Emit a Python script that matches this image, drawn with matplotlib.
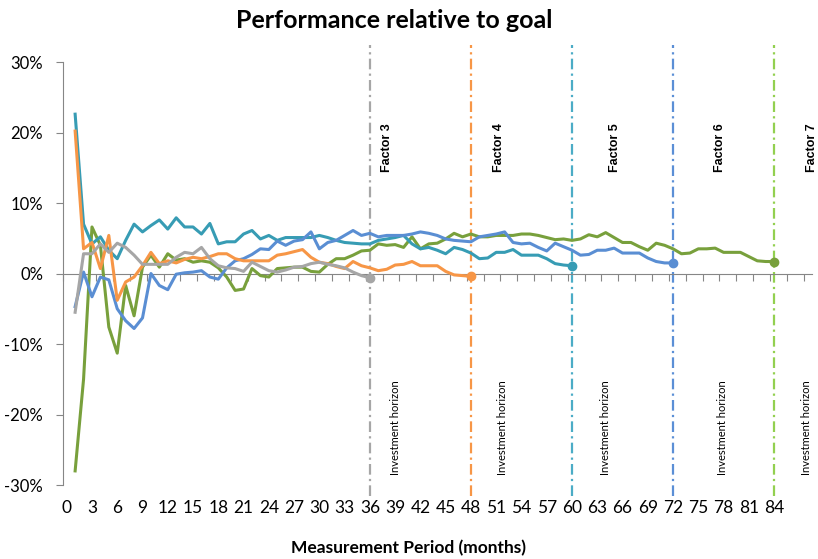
import numpy as np
import matplotlib.pyplot as plt
from matplotlib.ticker import FixedLocator, PercentFormatter

plt.rcParams['font.family'] = ['Lato', 'DejaVu Sans']
plt.rcParams['axes.unicode_minus'] = False

# Performance relative to goal (%), one value per month starting at month 1
factor3 = [-5.5, 2.8, 2.8, 4.2, 3.0, 4.3, 3.7, 2.6, 1.3, 1.3, 1.3, 1.3, 2.3, 3.0, 2.8, 3.7,
           2.1, 1.1, 0.8, 0.7, 0.3, 1.6, 1.0, 0.4, 0.2, 0.5, 0.9, 1.0, 1.4, 1.6, 1.3, 1.1,
           0.8, 0.2, -0.3, -0.6]
factor4 = [20.2, 3.5, 4.4, 0.7, 5.4, -3.8, -1.2, -0.5, 1.1, 3.0, 1.4, 1.8, 1.5, 2.0, 2.3, 2.1,
           2.4, 2.8, 2.8, 2.1, 1.8, 1.8, 1.8, 1.8, 2.6, 2.8, 3.1, 3.4, 2.3, 1.6, 1.4, 1.0,
           0.7, 1.7, 1.1, 0.8, 0.4, 0.6, 1.2, 1.3, 1.7, 1.1, 1.1, 1.1, 0.3, -0.2, -0.3, -0.4]
factor5 = [22.6, 7.0, 4.2, 5.2, 3.3, 2.1, 4.7, 7.0, 5.9, 6.8, 7.6, 6.3, 7.9, 6.6, 6.6, 5.6,
           7.1, 4.2, 4.5, 4.5, 5.6, 6.1, 4.9, 5.4, 4.7, 5.1, 5.1, 5.1, 5.1, 5.4, 5.1, 4.7,
           4.4, 4.3, 4.2, 4.2, 4.7, 4.9, 5.1, 5.4, 4.2, 3.5, 3.7, 3.3, 2.8, 3.7, 3.4, 2.9,
           2.1, 2.2, 3.0, 3.0, 3.4, 2.6, 2.6, 2.6, 2.1, 1.4, 1.2, 1.1]
factor6 = [-4.7, 0.2, -3.3, -0.5, -0.9, -5.0, -6.7, -7.8, -6.3, 0.0, -1.7, -2.3, -0.1, 0.1, 0.2, 0.4,
           -0.5, -0.8, 0.8, 1.8, 2.1, 2.7, 3.5, 3.4, 4.6, 4.0, 4.6, 4.8, 5.9, 3.5, 4.4, 4.7,
           5.4, 6.1, 5.4, 5.7, 5.2, 5.4, 5.4, 5.4, 5.6, 5.9, 5.7, 5.4, 4.9, 4.7, 4.6, 4.5,
           5.2, 5.4, 5.6, 5.9, 4.4, 4.2, 4.3, 3.7, 3.2, 4.3, 3.8, 3.3, 2.6, 2.7, 3.3, 3.3,
           3.6, 2.9, 2.9, 2.9, 2.2, 1.7, 1.5, 1.5]
factor7 = [-28.0, -15.0, 6.6, 4.0, -7.6, -11.3, -1.7, -6.0, 0.9, 2.6, 0.9, 2.8, 1.9, 2.1, 1.6, 1.8,
           1.6, 0.8, -0.5, -2.4, -2.2, 0.7, -0.3, -0.5, 0.7, 0.8, 0.9, 0.9, 0.3, 0.2, 1.3, 2.1,
           2.1, 2.6, 3.2, 3.3, 4.2, 4.0, 4.1, 3.7, 5.2, 3.5, 4.2, 4.3, 4.9, 5.7, 5.2, 5.6,
           5.2, 5.2, 5.4, 5.4, 5.4, 5.6, 5.6, 5.4, 5.1, 4.8, 4.9, 4.7, 4.9, 5.5, 5.2, 5.8,
           5.1, 4.4, 4.4, 3.8, 3.3, 4.3, 4.0, 3.5, 2.8, 2.9, 3.5, 3.5, 3.6, 3.0, 3.0, 3.0,
           2.4, 1.8, 1.7, 1.7]

factor_names = ['Factor 3', 'Factor 4', 'Factor 5', 'Factor 6', 'Factor 7']
horizons = [36, 48, 60, 72, 84]
horizon_text = 'Investment horizon'
month_labels = list(range(0, 85, 3))

series = [factor7, factor5, factor6, factor4, factor3]
line_colors = ['#78A03C', '#379CB4', '#5A8ED3', '#F79646', '#A6A6A6']
# horizon marker colours, in factor order 3..7
vline_colors = ['#A6A6A6', '#F79646', '#4BACC6', '#5B8FD6', '#92D050']

fig = plt.figure(figsize=(8.18, 5.59), dpi=100)
ax = fig.add_axes([62.5 / 818, 1 - 485 / 559, (812 - 62.5) / 818, (485 - 62) / 559])

for vals, col in zip(series, line_colors):
    months = np.arange(1, len(vals) + 1)
    ax.plot(months, vals, color=col, lw=2.2, solid_joinstyle='round', zorder=3)
    ax.plot(months[-1], vals[-1], 'o', color=col, ms=6, zorder=4)

# dash-dot markers at each investment horizon
ax.vlines(horizons, -31.5, 32.4, colors=vline_colors, lw=1.6,
          linestyles=[(0, (4.8, 1.9, 1, 1.9))], clip_on=False, zorder=2)

factor_x = [38.0, 51.3, 65.1, 77.6, 88.5]
horizon_x = [39.0, 51.7, 64.0, 77.9, 87.9]
for name, fx, hx in zip(factor_names, factor_x, horizon_x):
    ax.text(fx, 14.4, name, rotation=90, rotation_mode='anchor', ha='left', va='center',
            fontsize=9, fontweight='bold', family='Liberation Sans')
    ax.text(hx, -28.6, horizon_text, rotation=90, rotation_mode='anchor', ha='left',
            va='center', fontsize=8)

ax.set_xlim(-0.5, 88.5)
ax.set_ylim(-30, 30)
ax.set_yticks(np.arange(-30, 31, 10))
ax.yaxis.set_major_formatter(PercentFormatter(decimals=0))

axis_grey = '#868686'
for side in ['top', 'right']:
    ax.spines[side].set_visible(False)
ax.spines['left'].set_color(axis_grey)
ax.spines['bottom'].set_position(('data', 0))
ax.spines['bottom'].set_color(axis_grey)
ax.tick_params(axis='y', direction='out', length=5, color=axis_grey, labelsize=12, pad=9,
               labelcolor='black')

# tick marks on the zero line fall between months, every second month
ax.xaxis.set_major_locator(FixedLocator(np.arange(-0.5, 89, 2)))
ax.tick_params(axis='x', direction='out', length=5, color=axis_grey, labelbottom=False)

# month labels sit below the plot area
sec = ax.secondary_xaxis('bottom')
sec.set_xticks(month_labels)
sec.set_xticklabels([str(m) for m in month_labels])
sec.tick_params(length=0, labelsize=12.5, pad=11)
sec.spines['bottom'].set_visible(False)
sec.set_xlabel('Measurement Period (months)', fontsize=12.5, fontweight='bold', labelpad=17,
               x=0.461)

fig.text(394 / 818, 1 - 21 / 559, 'Performance relative to goal', ha='center', va='center',
         fontsize=18, fontweight='bold')

fig.savefig('out.png', dpi=100)
